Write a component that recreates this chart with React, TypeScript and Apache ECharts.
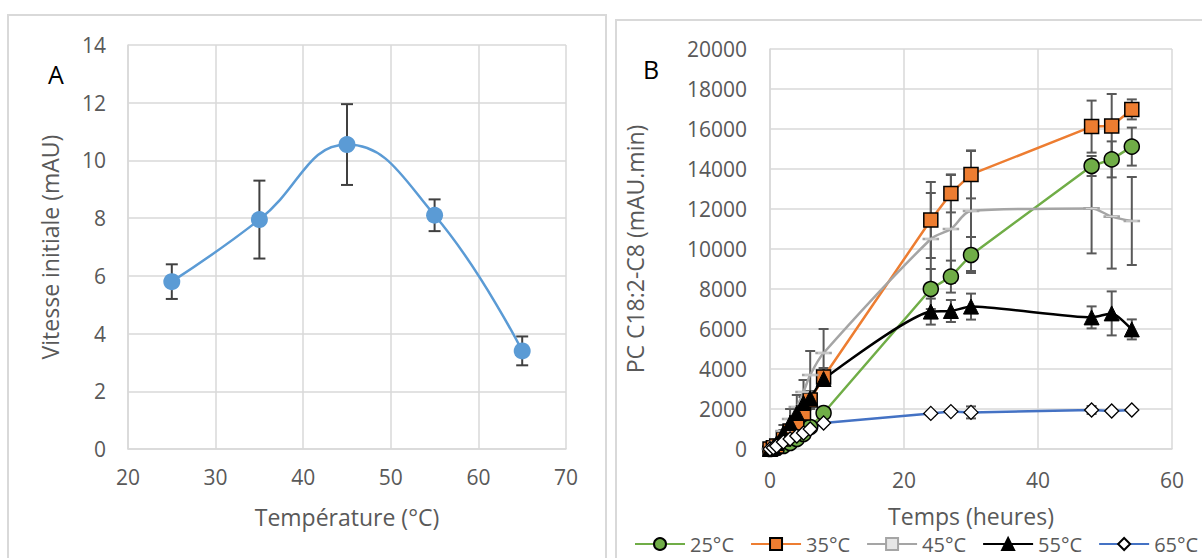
import React, { useEffect, useRef } from "react";
import * as echarts from "echarts";

// ---------- Panel A data ----------
const tempsA = [25, 35, 45, 55, 65];
const vitesseA = [5.8, 7.95, 10.55, 8.1, 3.4];
const errA = [0.6, 1.35, 1.4, 0.55, 0.5];

// ---------- Panel B data ----------
const timesB = [0, 0.5, 1, 2, 3, 4, 5, 6, 8, 24, 27, 30, 48, 51, 54];
const seriesNamesB = ["25°C", "35°C", "45°C", "55°C", "65°C"];
const v25 = [0, 20, 50, 150, 300, 500, 750, 1100, 1800, 8000, 8620, 9700, 14150, 14480, 15120];
const v35 = [0, 60, 150, 500, 900, 1300, 1800, 2450, 3600, 11450, 12780, 13730, 16120, 16150, 16980];
const v45 = [0, 150, 350, 900, 1500, 2100, 2850, 3700, 4800, 10500, 11000, 11900, 12030, 11620, 11400];
const v55 = [0, 100, 300, 800, 1300, 1800, 2300, 2550, 3500, 6870, 6900, 7120, 6580, 6780, 5980];
const v65 = [0, 60, 150, 350, 500, 650, 800, 1000, 1300, 1780, 1870, 1830, 1950, 1900, 1950];
const e25 = [0, 20, 30, 60, 100, 120, 150, 150, 200, 1000, 800, 900, 500, 900, 950];
const e35 = [0, 40, 80, 150, 250, 300, 400, 450, 450, 1900, 950, 1200, 1300, 1600, 500];
const e45 = [0, 60, 120, 300, 500, 600, 600, 1200, 1200, 2300, 2700, 3000, 2250, 2600, 2200];
const e55 = [0, 40, 80, 150, 200, 250, 300, 300, 350, 650, 550, 650, 550, 1100, 500];
const e65 = [0, 20, 30, 50, 50, 50, 60, 80, 100, 100, 100, 300, 200, 100, 100];

const ticksA_x = { min: 20, max: 70, interval: 10 };
const ticksA_y = { min: 0, max: 14, interval: 2 };
const ticksB_x = { min: 0, max: 60, interval: 20 };
const ticksB_y = { min: 0, max: 20000, interval: 2000 };

const FONT = "Open Sans";
const LABEL = "#595959";
const GRID = "#D9D9D9";
const DASH = "path://M0,0L14,0L14,5L0,5Z";

function errData(xs: number[], ys: number[], es: number[]) {
  return xs.map((x, i) => [x, ys[i] - es[i], ys[i] + es[i]]);
}

function errRender(capHalf: number, color: string, lw: number) {
  return (params: any, api: any) => {
    const x = api.value(0);
    const lo = api.value(1);
    const hi = api.value(2);
    const p1 = api.coord([x, hi]);
    const p2 = api.coord([x, lo]);
    const style = { stroke: color, lineWidth: lw };
    return {
      type: "group",
      children: [
        { type: "line", shape: { x1: p1[0], y1: p1[1], x2: p2[0], y2: p2[1] }, style },
        { type: "line", shape: { x1: p1[0] - capHalf, y1: p1[1], x2: p1[0] + capHalf, y2: p1[1] }, style },
        { type: "line", shape: { x1: p2[0] - capHalf, y1: p2[1], x2: p2[0] + capHalf, y2: p2[1] }, style },
      ],
    };
  };
}

function labelStyle(margin: number) {
  return { color: LABEL, fontFamily: FONT, fontSize: 21, margin, formatter: (v: number) => String(v) };
}

function axisCommon() {
  return {
    axisLine: { show: true, lineStyle: { color: GRID, width: 1.5 } },
    axisTick: { show: false },
    splitLine: { show: true, lineStyle: { color: GRID, width: 1.5 } },
    nameTextStyle: { color: LABEL, fontFamily: FONT, fontSize: 23 },
  };
}

export default function App() {
  const ref = useRef<HTMLDivElement>(null);
  useEffect(() => {
    if (!ref.current) return;
    const chart = echarts.init(ref.current, undefined, { renderer: "svg" });

    const bStyles = [
      { name: seriesNamesB[0], data: v25, err: e25, color: "#70AD47", symbol: "circle", size: 15, item: { color: "#70AD47", borderColor: "#000", borderWidth: 1.5 }, smooth: false },
      { name: seriesNamesB[1], data: v35, err: e35, color: "#ED7D31", symbol: "rect", size: 14, item: { color: "#ED7D31", borderColor: "#000", borderWidth: 1.5 }, smooth: false },
      { name: seriesNamesB[2], data: v45, err: e45, color: "#A5A5A5", symbol: DASH, size: [14, 5], item: { color: "#E6E6E6", borderColor: "#A5A5A5", borderWidth: 1.5 }, smooth: 0.3 },
      { name: seriesNamesB[3], data: v55, err: e55, color: "#000000", symbol: "triangle", size: 15, item: { color: "#000", borderColor: "#000", borderWidth: 1 }, smooth: 0.2 },
      { name: seriesNamesB[4], data: v65, err: e65, color: "#4472C4", symbol: "diamond", size: 14, item: { color: "#fff", borderColor: "#000", borderWidth: 1.3 }, smooth: false },
    ];

    const series: any[] = [];
    series.push({
      type: "custom",
      name: "errA",
      xAxisIndex: 0,
      yAxisIndex: 0,
      renderItem: errRender(6, "#404040", 2),
      encode: { x: 0, y: [1, 2] },
      data: errData(tempsA, vitesseA, errA),
      z: 2,
      silent: true,
    });
    series.push({
      type: "line",
      name: "Vitesse",
      xAxisIndex: 0,
      yAxisIndex: 0,
      data: tempsA.map((t, i) => [t, vitesseA[i]]),
      smooth: 0.45,
      symbol: "circle",
      symbolSize: 17,
      showAllSymbol: true,
      lineStyle: { color: "#5B9BD5", width: 2.5 },
      itemStyle: { color: "#5B9BD5" },
      z: 3,
    });
    bStyles.forEach((s, k) => {
      series.push({
        type: "custom",
        name: "err" + k,
        xAxisIndex: 1,
        yAxisIndex: 1,
        renderItem: errRender(5, "#595959", 2),
        encode: { x: 0, y: [1, 2] },
        data: errData(timesB, s.data, s.err),
        z: 2,
        silent: true,
      });
    });
    bStyles.forEach((s) => {
      series.push({
        type: "line",
        name: s.name,
        xAxisIndex: 1,
        yAxisIndex: 1,
        data: timesB.map((t, i) => [t, s.data[i]]),
        smooth: s.smooth,
        symbol: s.symbol,
        symbolSize: s.size,
        symbolKeepAspect: true,
        showAllSymbol: true,
        lineStyle: { color: s.color, width: 2.5 },
        itemStyle: s.item,
        z: 3,
      });
    });

    chart.setOption({
      animation: false,
      backgroundColor: "#ffffff",
      graphic: [
        { type: "rect", shape: { x: 8, y: 15, width: 598, height: 580 }, style: { fill: "none", stroke: GRID, lineWidth: 2 }, silent: true },
        { type: "rect", shape: { x: 616, y: 20, width: 620, height: 580 }, style: { fill: "none", stroke: GRID, lineWidth: 2 }, silent: true },
        { type: "text", x: 48, y: 61, style: { text: "A", fill: "#000", fontFamily: FONT, fontSize: 25 } },
        { type: "text", x: 643, y: 56, style: { text: "B", fill: "#000", fontFamily: FONT, fontSize: 25 } },
      ],
      grid: [
        { left: 128, right: 1202 - 566, top: 45, bottom: 558 - 449, containLabel: false },
        { left: 770, right: 1202 - 1172, top: 49, bottom: 558 - 449, containLabel: false },
      ],
      xAxis: [
        { ...axisCommon(), type: "value", gridIndex: 0, ...ticksA_x, name: "Température (°C)", nameLocation: "middle", nameGap: 56, axisLabel: labelStyle(17) },
        { ...axisCommon(), type: "value", gridIndex: 1, ...ticksB_x, name: "Temps (heures)", nameLocation: "middle", nameGap: 55, axisLabel: labelStyle(20) },
      ],
      yAxis: [
        { ...axisCommon(), type: "value", gridIndex: 0, ...ticksA_y, name: "Vitesse initiale (mAU)", nameLocation: "middle", nameGap: 67, axisLabel: labelStyle(22) },
        { ...axisCommon(), type: "value", gridIndex: 1, ...ticksB_y, name: "PC C18:2-C8 (mAU.min)", nameLocation: "middle", nameGap: 124, axisLabel: labelStyle(23) },
      ],
      legend: {
        data: seriesNamesB,
        left: 634,
        top: 534,
        width: 580,
        padding: 0,
        itemWidth: 50,
        itemHeight: 15,
        itemGap: 16,
        textStyle: { color: LABEL, fontFamily: FONT, fontSize: 20 },
      },
      series,
    });
    return () => chart.dispose();
  }, []);
  return <div ref={ref} style={{ position: "absolute", left: 0, top: 0, width: 1202, height: 558 }} />;
}
